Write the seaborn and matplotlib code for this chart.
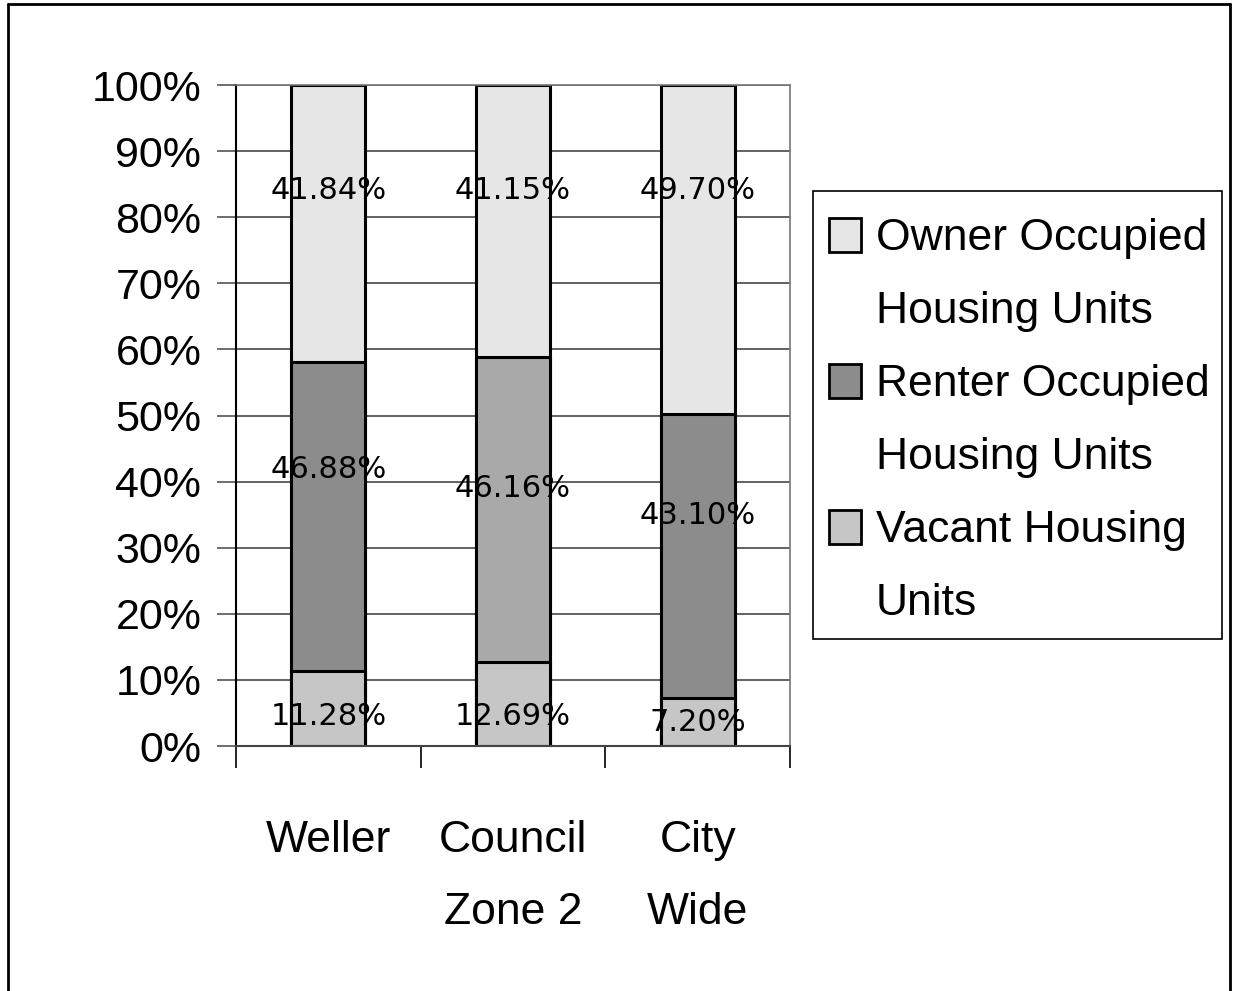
import pandas as pd
import seaborn as sns
import matplotlib.pyplot as plt
from matplotlib.patches import Patch, Rectangle
from matplotlib.lines import Line2D

categories = ['Weller', 'Council\nZone 2', 'City\nWide']
vacant = [11.28, 12.69, 7.20]
renter = [46.88, 46.16, 43.10]
owner = [41.84, 41.15, 49.70]
series_names = ['Owner Occupied\nHousing Units', 'Renter Occupied\nHousing Units', 'Vacant Housing\nUnits']
yticks = [0, 10, 20, 30, 40, 50, 60, 70, 80, 90, 100]

# where the value labels sit (percent of axis), as in the original
owner_label_y = [84.1, 84.1, 84.1]
renter_label_y = [41.8, 39.0, 34.8]
vacant_label_y = [4.5, 4.5, 3.6]

df = pd.DataFrame({'cat': categories, 'vacant': vacant, 'renter': renter, 'owner': owner})
df['top_renter'] = df['vacant'] + df['renter']
df['top_owner'] = df['top_renter'] + df['owner']

sns.set_style('white')
plt.rcParams['font.family'] = ['Liberation Sans', 'DejaVu Sans']
plt.rcParams['text.color'] = 'black'

fig = plt.figure(figsize=(12.33, 9.91), dpi=100)
ax = fig.add_axes([0.1914, 0.2472, 0.4493, 0.6670])

owner_col = '#e6e6e6'
renter_cols = ['#8c8c8c', '#a9a9a9', '#8c8c8c']
vacant_col = '#c6c6c6'

for col, pal in [('top_owner', [owner_col] * 3), ('top_renter', renter_cols), ('vacant', [vacant_col] * 3)]:
    sns.barplot(data=df, x='cat', y=col, hue='cat', palette=pal, order=categories,
                hue_order=categories, dodge=False, width=0.4, legend=False,
                edgecolor='black', linewidth=2.2, ax=ax)

for i in range(3):
    for val, ypos in [(owner[i], owner_label_y[i]), (renter[i], renter_label_y[i]),
                      (vacant[i], vacant_label_y[i])]:
        ax.text(i, ypos, f'{val:.2f}%', ha='center', va='center',
                fontsize=22, family='DejaVu Sans', color='black', zorder=5)

ax.set_ylim(0, 100)
ax.set_xlim(-0.5, 2.5)
ax.set_yticks(yticks)
ax.set_yticklabels([f'{t}%' for t in yticks], fontsize=31)
ax.set_xticks(range(3))
ax.set_xticklabels(categories, fontsize=32, linespacing=1.97)
ax.set_xticks([-0.5, 0.5, 1.5, 2.5], minor=True)
ax.tick_params(axis='x', which='major', length=0, pad=53, labelcolor='black')
ax.tick_params(axis='x', which='minor', length=16, width=1.2, color='black', direction='out', bottom=True)
ax.tick_params(axis='y', length=14, width=1.2, color='#555555', direction='out', pad=11,
               left=True, labelcolor='black')
ax.set_xlabel('')
ax.set_ylabel('')

ax.yaxis.grid(True, color='#555555', linewidth=1.3)
ax.set_axisbelow(True)
for side in ['top', 'right']:
    ax.spines[side].set_color('#777777')
    ax.spines[side].set_linewidth(1.2)
ax.spines['left'].set_color('black')
ax.spines['left'].set_linewidth(1.5)
ax.spines['bottom'].set_color('#444444')
ax.spines['bottom'].set_linewidth(1.5)

# legend: one row per text line so the swatch sits on the first line
leg_handles, leg_labels = [], []
for name, fc in zip(series_names, [owner_col, renter_cols[0], vacant_col]):
    first, second = name.split('\n')
    leg_handles.append(Patch(facecolor=fc, edgecolor='black', linewidth=2))
    leg_labels.append(first)
    leg_handles.append(Patch(facecolor='none', edgecolor='none'))
    leg_labels.append(second)
fig.legend(leg_handles, leg_labels, loc='upper left', bbox_to_anchor=(813 / 1233, 1 - 202 / 991),
           bbox_transform=fig.transFigure, fontsize=32, frameon=False,
           handlelength=0.72, handleheight=0.8, handletextpad=0.35,
           borderpad=0.35, labelspacing=0.71, borderaxespad=0)
fig.add_artist(Rectangle((813 / 1233, 1 - 639 / 991), 409 / 1233, 448 / 991,
                         transform=fig.transFigure, facecolor='none',
                         edgecolor='black', linewidth=1.2))

# outer chart border
for xs, ys in [([8, 8], [991, 4]), ([8, 1230], [4, 4]), ([1230, 1230], [4, 991])]:
    fig.add_artist(Line2D([x / 1233 for x in xs], [1 - y / 991 for y in ys],
                          transform=fig.transFigure, color='black', linewidth=2))

plt.savefig('out.png', dpi=100)
